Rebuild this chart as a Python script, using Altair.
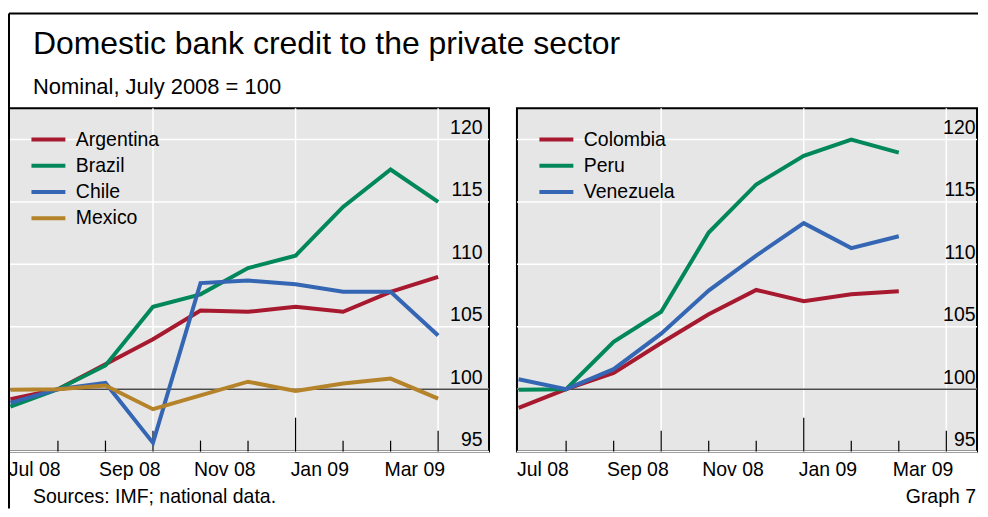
import altair as alt
import pandas as pd

# ---------------- data ----------------
# observations are end-of-month values; July 2008 = 100
months_left = ["Jun 08", "Jul 08", "Aug 08", "Sep 08", "Oct 08",
               "Nov 08", "Dec 08", "Jan 09", "Feb 09", "Mar 09"]
argentina = [99.2, 100.0, 102.0, 104.0, 106.3, 106.2, 106.6, 106.2, 107.8, 109.0]
brazil = [98.6, 100.0, 101.9, 106.6, 107.6, 109.7, 110.7, 114.6, 117.6, 115.0]
chile = [98.9, 100.0, 100.5, 95.7, 108.5, 108.7, 108.4, 107.8, 107.8, 104.3]
mexico = [99.95, 100.0, 100.3, 98.4, 99.5, 100.6, 99.85, 100.45, 100.85, 99.25]

months_right = ["Jun 08", "Jul 08", "Aug 08", "Sep 08", "Oct 08",
                "Nov 08", "Dec 08", "Jan 09", "Feb 09"]
colombia = [98.5, 100.0, 101.3, 103.7, 106.0, 107.95, 107.05, 107.6, 107.85]
peru = [99.95, 100.0, 103.8, 106.2, 112.55, 116.4, 118.7, 120.0, 118.95]
venezuela = [100.8, 100.0, 101.6, 104.45, 107.9, 110.7, 113.3, 111.3, 112.25]

left_names = ["Argentina", "Brazil", "Chile", "Mexico"]
right_names = ["Colombia", "Peru", "Venezuela"]

x_tick_labels = ["Jul 08", "Sep 08", "Nov 08", "Jan 09", "Mar 09"]
boundary_months = ["Aug 08", "Sep 08", "Oct 08", "Nov 08", "Dec 08",
                   "Jan 09", "Feb 09", "Mar 09", "Apr 09"]
y_ticks = [95, 100, 105, 110, 115, 120]
BASE = 100

TITLE = "Domestic bank credit to the private sector"
SUBTITLE = "Nominal, July 2008 = 100"
SOURCE = "Sources: IMF; national data."
GRAPH = "Graph 7"

# ---------------- styles ----------------
RED, GREEN, BLUE, GOLD = "#A6192E", "#00875A", "#3466B4", "#B5832A"
FONT = "Liberation Sans"
FS = 19.5
H = 344
W1, W2 = 481, 461
PX_PER_MONTH = 47.62
ROW = 26.3

MON = {m: i + 1 for i, m in enumerate(
    ["Jan", "Feb", "Mar", "Apr", "May", "Jun", "Jul", "Aug", "Sep", "Oct", "Nov", "Dec"])}


def month_start(s):
    m, y = s.split()
    return (2000 + int(y) - 2008) * 12 + (MON[m] - 7)


def series_df(months, named):
    rows = []
    for name, vals in named:
        for m, v in zip(months, vals):
            rows.append({"country": name, "t": month_start(m) + 1, "value": v})
    return pd.DataFrame(rows)


df_left = series_df(months_left, [("Argentina", argentina), ("Brazil", brazil),
                                  ("Chile", chile), ("Mexico", mexico)])
df_right = series_df(months_right, [("Colombia", colombia), ("Peru", peru),
                                    ("Venezuela", venezuela)])

label_pos = [month_start(s) + 0.5 for s in x_tick_labels]
label_expr = " : ".join(f"datum.value == {p} ? '{l}'" for p, l in zip(label_pos, x_tick_labels)) + " : ''"

bounds = pd.DataFrame({"t": [month_start(s) for s in boundary_months],
                       "m": [MON[s.split()[0]] for s in boundary_months]})
bounds["kind"] = bounds["m"].map(lambda m: "year" if m == 1 else ("quarter" if m in (4, 7, 10) else "month"))
tick_len = {"month": 11, "quarter": 21, "year": 34}

y_scale = alt.Scale(domain=[95, 122.5], nice=False, zero=False)

x_axis = alt.Axis(values=label_pos, labelExpr=label_expr, ticks=False, domain=False,
                  grid=False, labelFontSize=FS, labelFont=FONT, labelColor="black",
                  labelPadding=9, labelFlush=False, labelOverlap=False, title=None)


def y_axis(pad):
    return alt.Axis(orient="right", values=y_ticks, ticks=False, domain=False, grid=False,
                    labelAlign="right", labelPadding=pad, labelBaseline="alphabetic",
                    labelOffset=-6, labelFontSize=FS, labelFont=FONT,
                    labelColor="black", title=None, zindex=1)


def panel(df, names, colors, width, x0, label_pad):
    ya = y_axis(label_pad)
    x_scale = alt.Scale(domain=[x0, x0 + width / PX_PER_MONTH], nice=False, zero=False)
    color_scale = alt.Scale(domain=names, range=colors)
    hgrid = alt.Chart(pd.DataFrame({"v": y_ticks})).mark_rule(color="white", strokeWidth=1.5).encode(
        y=alt.Y("v:Q", scale=y_scale, axis=ya))
    vgrid = alt.Chart(bounds[bounds.kind != "month"]).mark_rule(color="white", strokeWidth=1.5).encode(
        x=alt.X("t:Q", scale=x_scale, axis=x_axis))
    base_line = alt.Chart(pd.DataFrame({"v": [BASE]})).mark_rule(color="#4a4a4a", strokeWidth=1.6).encode(
        y=alt.Y("v:Q", scale=y_scale, axis=ya))
    ticks = []
    for kind, L in tick_len.items():
        ticks.append(alt.Chart(bounds[bounds.kind == kind]).mark_rule(color="black", strokeWidth=1.2).encode(
            x=alt.X("t:Q", scale=x_scale, axis=x_axis),
            y=alt.value(H), y2=alt.value(H - L)))
    lines = alt.Chart(df).mark_line(strokeWidth=4).encode(
        x=alt.X("t:Q", scale=x_scale, axis=x_axis),
        y=alt.Y("value:Q", scale=y_scale, axis=ya),
        color=alt.Color("country:N", scale=color_scale, legend=None),
        detail="country:N")
    main = alt.layer(hgrid, vgrid, base_line, *ticks, lines)

    # legend, drawn from the country list through its own point scale
    ldf = pd.DataFrame({"country": names})
    ly = alt.Y("country:N", axis=None,
               scale=alt.Scale(type="point", domain=names, padding=0,
                               range=[31.3, 31.3 + ROW * (len(names) - 1)]))
    sym = alt.Chart(ldf).mark_rule(strokeWidth=4).encode(
        x=alt.value(22.5), x2=alt.value(56.5), y=ly,
        color=alt.Color("country:N", scale=color_scale, legend=None))
    lab = alt.Chart(ldf).mark_text(align="left", baseline="middle", fontSize=FS,
                                   font=FONT, color="black").encode(
        x=alt.value(67), y=ly, text="country:N")
    legend = alt.layer(sym, lab)
    return main, legend


main1, leg1 = panel(df_left, left_names, [RED, GREEN, BLUE, GOLD], W1, -0.03, -7)
main2, leg2 = panel(df_right, right_names, [RED, GREEN, BLUE], W2, -0.035, -2)

one = pd.DataFrame({"a": [0]})
frame_top = alt.Chart(one).mark_rule(color="black", strokeWidth=2).encode(
    x=alt.value(0), x2=alt.value(971), y=alt.value(-95))
frame_left = alt.Chart(one).mark_rule(color="black", strokeWidth=2).encode(
    x=alt.value(0), y=alt.value(-95), y2=alt.value(401))


def text_layer(txt, x, y, size, align="left"):
    return alt.Chart(pd.DataFrame({"s": [txt]})).mark_text(
        align=align, baseline="alphabetic", fontSize=size, font=FONT, color="black").encode(
        text="s:N", x=alt.value(x), y=alt.value(y))


decor = [frame_top, frame_left,
         text_layer(TITLE, 24, -54, 32),
         text_layer(SUBTITLE, 24, -14, 22),
         text_layer(SOURCE, 24, 396, FS),
         text_layer(GRAPH, 969, 396, FS, align="right")]

p1 = alt.layer(main1, leg1, *decor).resolve_scale(y="independent").properties(width=W1, height=H)
p2 = alt.layer(main2, leg2).resolve_scale(y="independent").properties(width=W2, height=H)

chart = alt.hconcat(p1, p2, spacing=28, bounds="flush").resolve_scale(
    color="independent").properties(
    padding={"left": -7, "top": 3, "right": 0, "bottom": 0},
    background="white",
).configure_view(fill="#E6E6E6", stroke="black", strokeWidth=2)

chart.save("out.html", embed_options={"renderer": "svg", "actions": False})
